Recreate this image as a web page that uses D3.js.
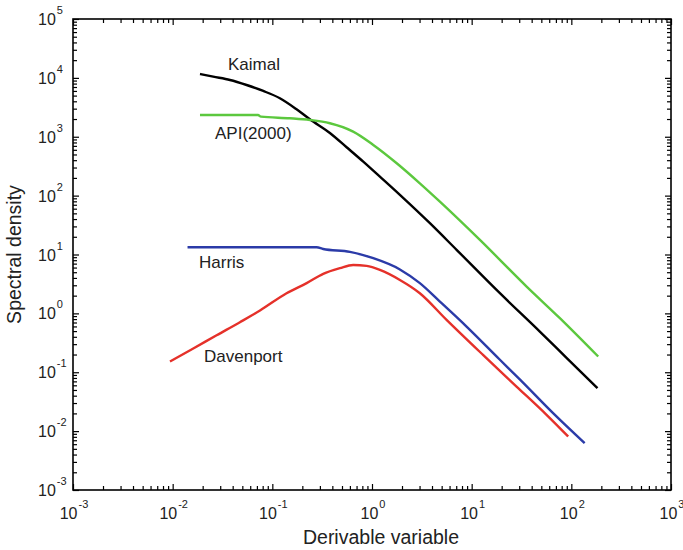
<!DOCTYPE html>
<html>
<head>
<meta charset="utf-8">
<script src="https://cdn.jsdelivr.net/npm/d3@7"></script>
<style>
    body { margin: 0; background: #fff; }
    svg { display: block; font-family: Arial, "Liberation Sans", Helvetica, sans-serif; }
    .domain { display: none; }
    .tick line { stroke: #000; stroke-width: 1.2; }
</style>
</head>
<body>
<svg width="683" height="550"></svg>
<script>
// values (x = derivable variable, y = spectral density)
const kaimalX = [0.0188, 0.0255, 0.0376, 0.0552, 0.0811, 0.119, 0.175, 0.238, 0.378, 0.556, 0.817, 1.20, 1.905, 3.81, 7.06, 19.2, 48.3, 89.5, 183];
const kaimalY = [11640, 10480, 9210, 7570, 5990, 4510, 2930, 1980, 1161, 664, 378, 210, 103, 34.0, 12.0, 2.20, 0.491, 0.176, 0.0537];

const apiX = [0.0188, 0.0718, 0.0769, 0.150, 0.238, 0.378, 0.647, 1.03, 1.77, 3.02, 4.80, 12.1, 35.6, 76.7, 186];
const apiY = [2344, 2344, 2195, 2061, 1928, 1695, 1221, 726, 355, 162, 79.1, 17.7, 2.85, 0.83, 0.185];

const harrisX = [0.0141, 0.278, 0.324, 0.600, 1.03, 1.905, 3.02, 4.80, 8.89, 19.2, 30.4, 65.6, 136];
const harrisY = [13.3, 13.3, 12.4, 11.1, 8.65, 5.58, 3.26, 1.585, 0.597, 0.163, 0.0757, 0.0202, 0.00625];

const davenportX = [0.0094, 0.0161, 0.0276, 0.0473, 0.0752, 0.139, 0.221, 0.324, 0.476, 0.647, 0.883, 1.20, 1.905, 3.02, 5.60, 13.0, 28.2, 56.4, 92.9];
const davenportY = [0.152, 0.253, 0.425, 0.709, 1.12, 2.20, 3.26, 4.69, 5.85, 6.65, 6.40, 5.48, 3.70, 2.20, 0.776, 0.197, 0.0571, 0.0189, 0.0081];

const xTickExp = [-3, -2, -1, 0, 1, 2, 3];
const yTickExp = [-3, -2, -1, 0, 1, 2, 3, 4, 5];

const series = [
    { name: 'Kaimal', xs: kaimalX, ys: kaimalY, color: '#000000', label: [228, 70] },
    { name: 'API(2000)', xs: apiX, ys: apiY, color: '#5cc83e', label: [215, 139] },
    { name: 'Harris', xs: harrisX, ys: harrisY, color: '#2b3ba8', label: [199, 268] },
    { name: 'Davenport', xs: davenportX, ys: davenportY, color: '#e5312a', label: [204, 362] }
];

const LEFT = 73, RIGHT = 671, TOP = 19, BOTTOM = 490;

let svg = d3.select('svg');

svg.append('rect')
    .attr('width', 683).attr('height', 550)
    .attr('fill', '#fff');

let x = d3.scaleLog().domain([1e-3, 1e3]).range([LEFT, RIGHT]);
let y = d3.scaleLog().domain([1e-3, 1e5]).range([BOTTOM, TOP]);

let xMajor = xTickExp.map(e => Math.pow(10, e));
let yMajor = yTickExp.map(e => Math.pow(10, e));

function minorTicks(exps) {
    let out = [];
    for (let i = 0; i < exps.length - 1; i++) {
        for (let k = 2; k <= 9; k++) out.push(k * Math.pow(10, exps[i]));
    }
    return out;
}
let xMinor = minorTicks(xTickExp);
let yMinor = minorTicks(yTickExp);

// ticks on all four sides, pointing inward
function addAxis(axisFn, scale, translate, values, size) {
    svg.append('g')
        .attr('transform', translate)
        .call(axisFn(scale).tickValues(values).tickSize(size).tickFormat(''))
        .select('.domain').remove();
}
addAxis(d3.axisBottom, x, `translate(0,${BOTTOM})`, xMajor, -6);
addAxis(d3.axisBottom, x, `translate(0,${BOTTOM})`, xMinor, -4);
addAxis(d3.axisTop, x, `translate(0,${TOP})`, xMajor, -6);
addAxis(d3.axisTop, x, `translate(0,${TOP})`, xMinor, -4);
addAxis(d3.axisLeft, y, `translate(${LEFT},0)`, yMajor, -6);
addAxis(d3.axisLeft, y, `translate(${LEFT},0)`, yMinor, -4);
addAxis(d3.axisRight, y, `translate(${RIGHT},0)`, yMajor, -6);
addAxis(d3.axisRight, y, `translate(${RIGHT},0)`, yMinor, -4);

svg.append('rect')
    .attr('x', LEFT).attr('y', TOP)
    .attr('width', RIGHT - LEFT).attr('height', BOTTOM - TOP)
    .attr('fill', 'none')
    .attr('stroke', '#000')
    .attr('stroke-width', 1.6);

// tick labels
let xl = svg.append('g').selectAll('text')
    .data(xTickExp)
    .enter().append('text')
    .attr('x', e => x(Math.pow(10, e)) + 1)
    .attr('y', BOTTOM + 29)
    .attr('text-anchor', 'middle')
    .attr('font-size', 16)
    .attr('fill', '#222');
xl.append('tspan').text('10');
xl.append('tspan').attr('font-size', 11).attr('dy', -11).attr('dx', 1).text(e => e);

let yl = svg.append('g').selectAll('text')
    .data(yTickExp)
    .enter().append('text')
    .attr('x', 38)
    .attr('y', e => y(Math.pow(10, e)) + 6)
    .attr('font-size', 16)
    .attr('fill', '#222');
yl.append('tspan').text('10');
yl.append('tspan').attr('font-size', 11).attr('dy', -11).attr('dx', 1).text(e => e);

// axis titles
svg.append('text')
    .attr('x', 381).attr('y', 544)
    .attr('text-anchor', 'middle')
    .attr('font-size', 19.5)
    .attr('fill', '#222')
    .text('Derivable variable');

svg.append('text')
    .attr('transform', `translate(21,${(TOP + BOTTOM) / 2}) rotate(-90)`)
    .attr('text-anchor', 'middle')
    .attr('font-size', 19.5)
    .attr('fill', '#222')
    .text('Spectral density');

// curves
let line = d3.line()
    .x(d => x(d[0]))
    .y(d => y(d[1]))
    .curve(d3.curveMonotoneX);

series.forEach(s => {
    let pts = s.xs.map((v, i) => [v, s.ys[i]]);
    svg.append('path')
        .datum(pts)
        .attr('d', line)
        .attr('fill', 'none')
        .attr('stroke', s.color)
        .attr('stroke-width', 2.4)
        .attr('stroke-linejoin', 'round');

    svg.append('text')
        .attr('x', s.label[0]).attr('y', s.label[1])
        .attr('font-size', 17)
        .attr('fill', '#222')
        .text(s.name);
});
</script>
</body>
</html>
